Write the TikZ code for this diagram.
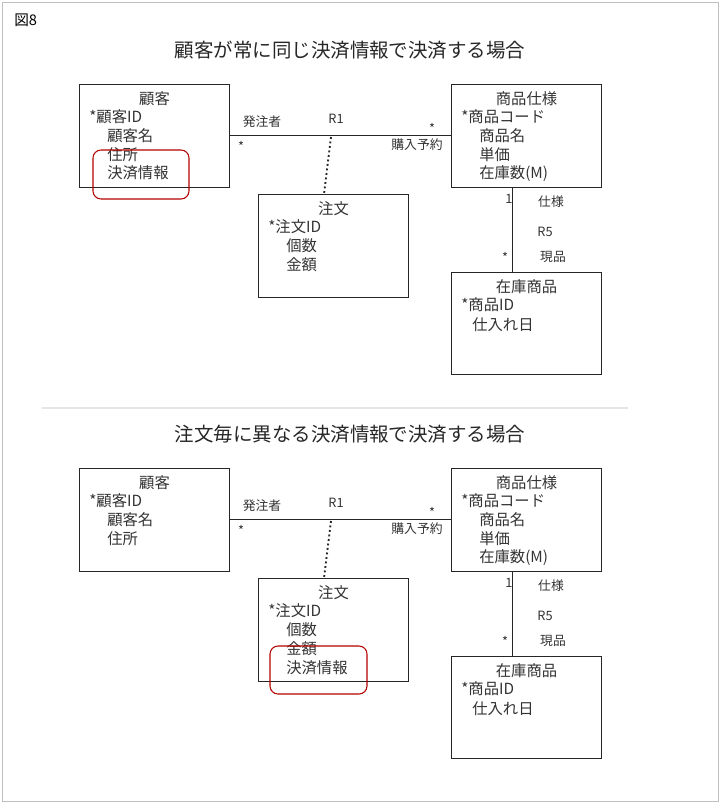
\documentclass[tikz,border=0pt]{standalone}
\usepackage{fontspec}
\setmainfont{Noto Sans CJK JP}
\usetikzlibrary{positioning}
\tikzset{
  ent/.style={draw=black!85,line width=0.9pt,minimum width=112pt,minimum height=77pt},
  att/.style={anchor=west,inner sep=0pt,font=\fontsize{11.5}{12}\selectfont,text=black!80},
  ttl/.style={anchor=center,inner sep=0pt,font=\fontsize{11.5}{12}\selectfont,text=black!80},
  lab/.style={inner sep=0pt,font=\fontsize{9.6}{10}\selectfont,text=black!80},
  payfrm/.style={draw=red!70!black,line width=0.8pt,rounded corners=6pt},
}
\begin{document}
\begin{tikzpicture}[x=0.75pt,y=-0.75pt]
  \useasboundingbox (0,0) rectangle (720,803);
  \draw[black!25] (2,2) rectangle (718,801);
  \node[anchor=west,inner sep=0pt,font=\fontsize{11}{12}\selectfont] (fig) at (14,20) {図8};
  \draw[black!10,line width=1.5pt] (42,408) -- (628,408);
  % case 1 and case 2
  \foreach \dy/\title/\pos in {0/顧客が常に同じ決済情報で決済する場合/1,384/注文毎に異なる決済情報で決済する場合/2}{%
  \begin{scope}[yshift=-\dy*0.75pt]
    \node[font=\fontsize{14.6}{15}\selectfont,text=black!85] (title\pos) at (350,50) {\title};
    \node[ent] (cust\pos) at (154.5,136) {};
    \node[ent] (spec\pos) at (526.5,136) {};
    \node[ent] (ord\pos) at (333.5,246) {};
    \node[ent] (stock\pos) at (526.5,323.5) {};
    \node[ttl] (custT\pos) at (154.5,99) {顧客};
    \node[att] (custA\pos) at (89,117) {*顧客ID};
    \node[att] (custB\pos) at (107,136) {顧客名};
    \node[att] (custC\pos) at (107,155) {住所};
    \node[ttl] (specT\pos) at (526.5,99) {商品仕様};
    \node[att] (specA\pos) at (461,117) {*商品コード};
    \node[att] (specB\pos) at (479,136) {商品名};
    \node[att] (specC\pos) at (479,155) {単価};
    \node[att] (specD\pos) at (479,174) {在庫数(M)};
    \node[ttl] (ordT\pos) at (333.5,209) {注文};
    \node[att] (ordA\pos) at (268,227) {*注文ID};
    \node[att] (ordB\pos) at (286,246) {個数};
    \node[att] (ordC\pos) at (286,265) {金額};
    \node[ttl] (stockT\pos) at (526.5,287) {在庫商品};
    \node[att] (stockA\pos) at (461,305) {*商品ID};
    \node[att] (stockB\pos) at (472,325) {仕入れ日};
    \draw[black!85,line width=0.5pt] (cust\pos.east|-0,135) -- (spec\pos.west|-0,135);
    \coordinate (r1\pos) at (331,137);
    \draw[black!85,line width=1.4pt,dotted] (r1\pos) -- (ord\pos.north-|324,0);
    \draw[black!85,line width=0.5pt] (spec\pos.south-|512,0) -- (stock\pos.north-|512,0);
    \node[lab] (l1\pos) at (262,122) {発注者};
    \node[lab] (l2\pos) at (336,119) {R1};
    \node[lab] (l3\pos) at (432,128) {*};
    \node[lab] (l4\pos) at (241,146) {*};
    \node[lab] (l5\pos) at (417,145) {購入予約};
    \node[lab] (l6\pos) at (509,199) {1};
    \node[lab] (l7\pos) at (551,202) {仕様};
    \node[lab] (l8\pos) at (545,232) {R5};
    \node[lab] (l9\pos) at (505,257) {*};
    \node[lab] (l10\pos) at (553,257) {現品};
  \end{scope}}
  % case 1: payment info on customer
  \node[att] (custD1) at (107,173) {決済情報};
  \draw[payfrm] (93,150) rectangle (189,199);
  % case 2: payment info on order
  \node[att] (ordD2) at (286,668) {決済情報};
  \draw[payfrm] (270,646) rectangle (367,694);
\end{tikzpicture}
\end{document}
